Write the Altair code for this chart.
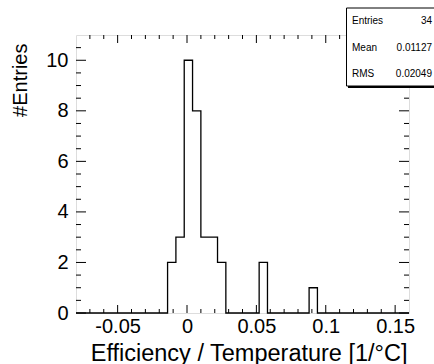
import altair as alt
import pandas as pd

# ---- data ----
x_min, x_max, bin_width = -0.08, 0.16, 0.006
bin_low = [-0.014, -0.008, -0.002, 0.004, 0.010, 0.016, 0.022, 0.052, 0.088]
bin_count = [2, 3, 10, 8, 3, 3, 2, 2, 1]
x_major = [-0.05, 0.0, 0.05, 0.1, 0.15]
x_minor = [-0.07, -0.06, -0.04, -0.03, -0.02, -0.01, 0.01, 0.02, 0.03, 0.04,
           0.06, 0.07, 0.08, 0.09, 0.11, 0.12, 0.13, 0.14]
y_major = [0, 2, 4, 6, 8, 10]
y_minor = [0.5, 1, 1.5, 2.5, 3, 3.5, 4.5, 5, 5.5, 6.5, 7, 7.5, 8.5, 9, 9.5, 10.5]
stat_names = ["Entries", "Mean", "RMS"]
stat_values = ["34", "0.01127", "0.02049"]

W, H = 333, 278
FONT = "Liberation Sans"

# full histogram as step outline
n_bins = int(round((x_max - x_min) / bin_width))
counts = [0] * n_bins
for lo, c in zip(bin_low, bin_count):
    counts[int(round((lo - x_min) / bin_width))] = c
edges = [x_min + i * bin_width for i in range(n_bins + 1)]
hist_df = pd.DataFrame({"x": edges, "y": counts + [counts[-1]]})

xs = alt.Scale(domain=[x_min, x_max], nice=False, zero=False)
ys = alt.Scale(domain=[0, 11], nice=False, zero=True)

xaxis = alt.Axis(
    values=x_major, labelExpr="'' + datum.value", ticks=False, domain=False,
    grid=False, labelFontSize=20, labelPadding=3, labelFont=FONT,
    labelColor="black", title="Efficiency / Temperature [1/°C]",
    titleFont=FONT, titleFontSize=23.5, titleFontWeight="normal",
    titleColor="black", titleAlign="right", titleAnchor="end",
    titleX=W - 2, titleY=47, titleBaseline="alphabetic")
yaxis = alt.Axis(
    values=y_major, format="d", ticks=False, domain=False, grid=False,
    labelFontSize=20, labelPadding=8, labelFont=FONT, labelColor="black",
    title="#Entries", titleFont=FONT, titleFontSize=20,
    titleFontWeight="normal", titleColor="black", titleAngle=-90,
    titleAlign="right", titleBaseline="alphabetic", titleX=-50, titleY=8)

hist = alt.Chart(hist_df).mark_line(
    interpolate="step-after", color="black", strokeWidth=1.3
).encode(
    x=alt.X("x:Q", scale=xs, axis=xaxis),
    y=alt.Y("y:Q", scale=ys, axis=yaxis),
)


def xticks(vals, length):
    df = pd.DataFrame({"x": vals})
    bottom = alt.Chart(df).mark_rule(color="black", strokeWidth=1).encode(
        x=alt.X("x:Q", scale=xs, axis=xaxis),
        y=alt.value(H), y2=alt.value(H - length))
    top = alt.Chart(df).mark_rule(color="black", strokeWidth=1).encode(
        x=alt.X("x:Q", scale=xs, axis=xaxis),
        y=alt.value(0), y2=alt.value(length))
    return [bottom, top]


def yticks(vals, length):
    df = pd.DataFrame({"y": vals})
    left = alt.Chart(df).mark_rule(color="black", strokeWidth=1).encode(
        y=alt.Y("y:Q", scale=ys, axis=yaxis),
        x=alt.value(0), x2=alt.value(length))
    right = alt.Chart(df).mark_rule(color="black", strokeWidth=1).encode(
        y=alt.Y("y:Q", scale=ys, axis=yaxis),
        x=alt.value(W), x2=alt.value(W - length))
    return [left, right]


ticks = xticks(x_major, 8) + xticks(x_minor, 4) + yticks(y_major, 10) + yticks(y_minor, 5)

# stats box (ROOT style)
box_df = pd.DataFrame({"a": [0]})
shadow = alt.Chart(box_df).mark_rect(color="black", clip=False).encode(
    x=alt.value(272), x2=alt.value(362), y=alt.value(-25), y2=alt.value(53))
box = alt.Chart(box_df).mark_rect(fill="white", stroke="black", strokeWidth=1, clip=False).encode(
    x=alt.value(270.5), x2=alt.value(362), y=alt.value(-27), y2=alt.value(51))

stat_layers = []
row_y = [-14, 13, 39]
for i in range(3):
    sdf = pd.DataFrame({"name": [stat_names[i]], "val": [stat_values[i]]})
    stat_layers.append(alt.Chart(sdf).mark_text(
        align="left", baseline="middle", font=FONT, fontSize=10, color="black"
    ).encode(x=alt.value(276), y=alt.value(row_y[i]), text="name:N"))
    stat_layers.append(alt.Chart(sdf).mark_text(
        align="right", baseline="middle", font=FONT, fontSize=10, color="black"
    ).encode(x=alt.value(356), y=alt.value(row_y[i]), text="val:N"))

chart = alt.layer(hist, *ticks, shadow, box, *stat_layers).properties(
    width=W, height=H, autosize="none",
    padding={"left": 76, "top": 35, "right": 25, "bottom": 51},
    background="white",
).configure_view(stroke="black", strokeWidth=1.5).configure(font=FONT)

chart.save("out.html", embed_options={"renderer": "svg", "actions": False})
